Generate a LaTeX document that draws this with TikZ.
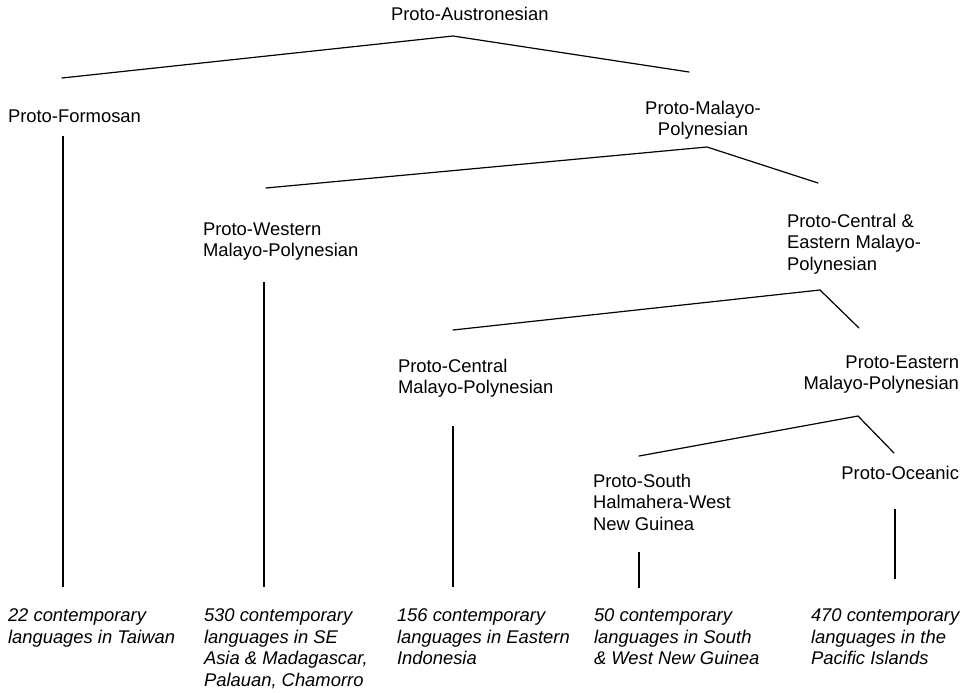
\documentclass[tikz,border=0pt]{standalone}
\usepackage{fontspec}
\setmainfont{Liberation Sans}
\begin{document}
\begin{tikzpicture}[x=0.75pt,y=-0.75pt,
  lbl/.style={inner sep=0pt, outer sep=0pt, font=\fontsize{13.8}{16.1}\selectfont},
  lang/.style={inner sep=0pt, outer sep=0pt, align=left, anchor=north west, font=\fontsize{13.8}{16.1}\selectfont\itshape},
  branch/.style={line width=0.9pt, line cap=round, line join=miter},
  stem/.style={line width=0.8pt}]
\useasboundingbox (0,0) rectangle (972,693);

% proto-language labels
\node[lbl, anchor=north west] (pan) at (391,6.8) {Proto-Austronesian};
\node[lbl, anchor=north west] (pf) at (8,109.8) {Proto-Formosan};
\node[lbl, anchor=north, align=center] (pmp) at (703,100.8) {Proto-Malayo-\\Polynesian};
\node[lbl, anchor=north west, align=left] (pwmp) at (203,222.8) {Proto-Western\\Malayo-Polynesian};
\node[lbl, anchor=north west, align=left] (pcemp) at (787,213.8) {Proto-Central \&\\Eastern Malayo-\\Polynesian};
\node[lbl, anchor=north west, align=left] (pcmp) at (398,358.8) {Proto-Central\\Malayo-Polynesian};
\node[lbl, anchor=north east, align=right] (pemp) at (959,355.8) {Proto-Eastern\\Malayo-Polynesian};
\node[lbl, anchor=north west, align=left] (pshwng) at (593,473.8) {Proto-South\\Halmahera-West\\New Guinea};
\node[lbl, anchor=north east] (poc) at (959,465.8) {Proto-Oceanic};

% contemporary languages
\node[lang] (l1) at (8,608.8) {22 contemporary\\languages in Taiwan};
\node[lang] (l2) at (204,608.8) {530 contemporary\\languages in SE\\Asia \& Madagascar,\\Palauan, Chamorro};
\node[lang] (l3) at (397,608.8) {156 contemporary\\languages in Eastern\\Indonesia};
\node[lang] (l4) at (594,608.8) {50 contemporary\\languages in South\\\& West New Guinea};
\node[lang] (l5) at (811,608.8) {470 contemporary\\languages in the\\Pacific Islands};

% branch points
\coordinate (pan-top) at (453,36);
\coordinate (pan-l) at (62,78);
\coordinate (pan-r) at (689,72);
\coordinate (pmp-top) at (707,147);
\coordinate (pmp-l) at (266,188);
\coordinate (pmp-r) at (818,183);
\coordinate (pcemp-top) at (820,290);
\coordinate (pcemp-l) at (453,330);
\coordinate (pcemp-r) at (859,328);
\coordinate (pemp-top) at (858,416);
\coordinate (pemp-l) at (639,456);
\coordinate (pemp-r) at (894,453);

% stems
\coordinate (pf-a) at (63,136);
\coordinate (pf-b) at (63,587);
\coordinate (pwmp-a) at (264,282);
\coordinate (pwmp-b) at (264,587);
\coordinate (pcmp-a) at (453,426);
\coordinate (pcmp-b) at (453,587);
\coordinate (pshwng-a) at (639,552);
\coordinate (pshwng-b) at (639,588);
\coordinate (poc-a) at (895,509);
\coordinate (poc-b) at (895,579);

\draw[branch] (pan-l) -- (pan-top) -- (pan-r);
\draw[branch] (pmp-l) -- (pmp-top) -- (pmp-r);
\draw[branch] (pcemp-l) -- (pcemp-top) -- (pcemp-r);
\draw[branch] (pemp-l) -- (pemp-top) -- (pemp-r);

\draw[stem] (pf-a) -- (pf-b);
\draw[stem] (pwmp-a) -- (pwmp-b);
\draw[stem] (pcmp-a) -- (pcmp-b);
\draw[stem] (pshwng-a) -- (pshwng-b);
\draw[stem] (poc-a) -- (poc-b);
\end{tikzpicture}
\end{document}
